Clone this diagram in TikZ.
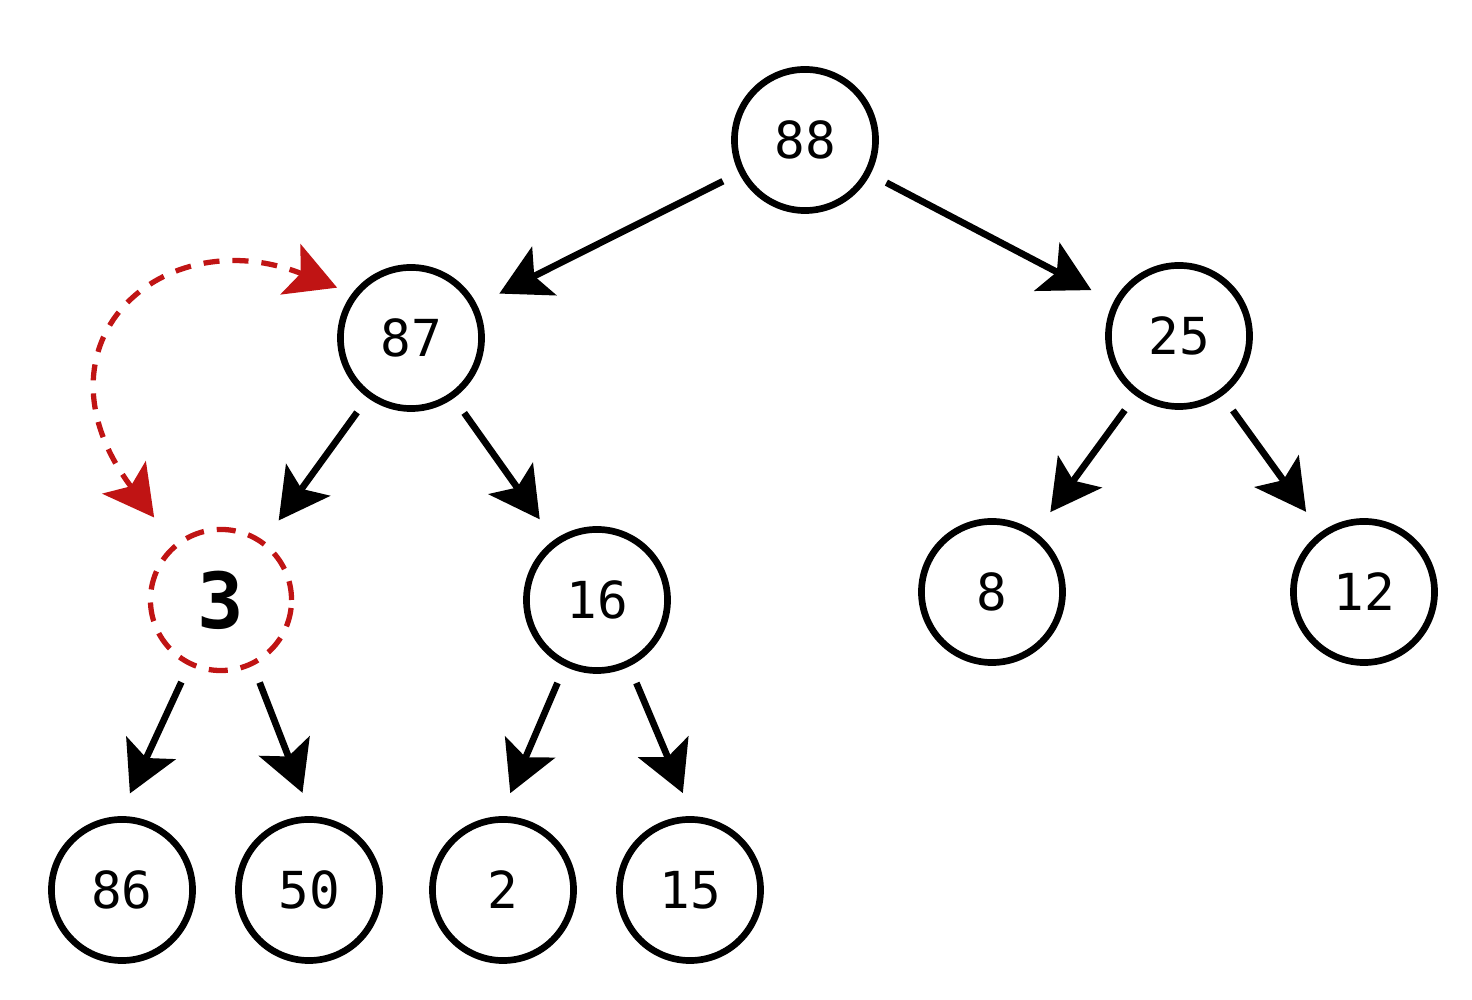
\documentclass[tikz,border=0pt]{standalone}
\usepackage{fontspec}
\setmonofont{DejaVu Sans Mono}
\usepackage{xcolor}
\usepackage{tikz}
\usetikzlibrary{arrows.meta}

\definecolor{swapred}{RGB}{192,20,20}

\begin{document}
\begin{tikzpicture}[x=0.01cm,y=0.01cm,line width=1.9pt,
    >={Stealth[length=5mm,width=5.4mm,inset=1.1mm]},
    every node/.style={circle,draw,inner sep=0pt,minimum size=1.41cm,
      font=\ttfamily\fontsize{14.5}{17}\selectfont},
    moved/.style={draw=swapred,dash pattern=on 1.9mm off 1.3mm,line width=1.5pt,
      font=\ttfamily\bfseries\fontsize{22}{26}\selectfont},
    link/.style={->,shorten <=1.8mm,shorten >=2.5mm},
    exchange/.style={<->,swapred,line width=1.5pt,dash pattern=on 1.6mm off 1.3mm,
      shorten <=3.3mm,shorten >=1.6mm}]
    \useasboundingbox (0,0) rectangle (1472,1000);
    \node (n88) at (805,860) {88};
    \node (n87) at (411,662) {87};
    \node (n25) at (1179,664) {25};
    \node[moved] (n3) at (221,400) {3};
    \node (n16) at (597,400) {16};
    \node (n8) at (992,408) {8};
    \node (n12) at (1364,408) {12};
    \node (n86) at (122,110) {86};
    \node (n50) at (309,110) {50};
    \node (n2) at (503,110) {2};
    \node (n15) at (690,110) {15};
    \draw[link] (n88) -- (n87);
    \draw[link] (n88) -- (n25);
    \draw[link] (n87) -- (n3);
    \draw[link] (n87) -- (n16);
    \draw[link] (n25) -- (n8);
    \draw[link] (n25) -- (n12);
    \draw[link] (n3.-116) -- (n86.92);
    \draw[link] (n3.-64) -- (n50.88);
    \draw[link] (n16.-116) -- (n2.92);
    \draw[link] (n16.-64) -- (n15.88);
    \draw[exchange] (n3.130) .. controls +(-150,200) and +(-190,75) .. (n87.143);
  \end{tikzpicture}
\end{document}
